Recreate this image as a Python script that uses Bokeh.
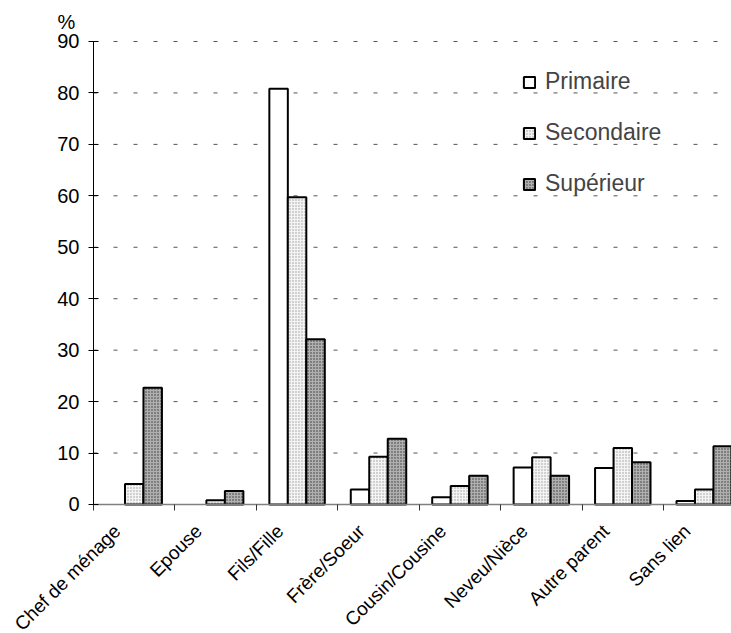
import math
from bokeh.plotting import figure
from bokeh.models import Range1d, FixedTicker, Legend, LegendItem, LabelSet, Label, ColumnDataSource
from bokeh.core.properties import value
from bokeh.embed import file_html
from bokeh.resources import INLINE

categories = ["Chef de ménage", "Epouse", "Fils/Fille", "Frère/Soeur",
              "Cousin/Cousine", "Neveu/Nièce", "Autre parent", "Sans lien"]
primaire = [0, 0, 80.8, 2.9, 1.4, 7.2, 7.1, 0.7]
secondaire = [4.0, 0.8, 59.7, 9.3, 3.6, 9.2, 11.0, 2.9]
superieur = [22.7, 2.6, 32.1, 12.8, 5.6, 5.6, 8.2, 11.3]
series_names = ["Primaire", "Secondaire", "Supérieur"]
y_ticks = [0, 10, 20, 30, 40, 50, 60, 70, 80, 90]
unit_label = "%"

FONT = "Liberation Sans"
W, H = 731, 633
n = len(categories)
X_END = 7.835

# frame covers the whole page; axes are drawn at value 0 so the texts
# around them stay inside the frame
p = figure(width=W, height=H, output_backend="svg", toolbar_location=None,
           x_range=Range1d(-1.1421, X_END), y_range=Range1d(-25.08, 97.97),
           min_border_left=0, min_border_right=0,
           min_border_top=0, min_border_bottom=0)
p.title.visible = False
p.outline_line_color = None
p.background_fill_color = "white"
p.border_fill_color = "white"

# dashed value grid, only over the plotting area
p.xgrid.visible = False
p.ygrid.visible = False
grid_vals = [t for t in y_ticks if t > 0]
p.segment(x0=[0] * len(grid_vals), x1=[n] * len(grid_vals), y0=grid_vals, y1=grid_vals,
          line_color="#555555", line_width=1, line_dash="4 16")

bw = 0.227
offsets = [-bw, 0.0, bw]
styles = [
    dict(fill_color="white"),
    dict(fill_color="#f4f4f4", hatch_pattern="dot", hatch_color="#9a9a9a",
         hatch_scale=3, hatch_weight=1),
    dict(fill_color="#b0b0b0", hatch_pattern="dot", hatch_color="#333333",
         hatch_scale=3, hatch_weight=1),
]
renderers = []
for vals, off, st in zip([primaire, secondaire, superieur], offsets, styles):
    xs = [i + 0.5 + off for i, v in enumerate(vals) if v > 0]
    tops = [v for v in vals if v > 0]
    r = p.vbar(x=xs, top=tops, width=bw, bottom=0, line_color="black",
               line_width=2, **st)
    renderers.append(r)

ya = p.yaxis[0]
ya.fixed_location = 0
ya.ticker = FixedTicker(ticks=y_ticks)
ya.bounds = (0, 90)
ya.axis_line_color = "black"
ya.major_tick_in = 5
ya.major_tick_out = 5
ya.minor_tick_line_color = None
ya.major_label_standoff = 9
ya.major_label_text_font = FONT
ya.major_label_text_font_size = "20px"
ya.major_label_text_color = "black"

xa = p.xaxis[0]
bounds = list(range(n + 1))
xa.fixed_location = 0
xa.bounds = (0, n)
xa.ticker = FixedTicker(ticks=bounds, minor_ticks=[])
xa.major_label_overrides = {b: "" for b in bounds}
xa.major_tick_in = 0
xa.major_tick_out = 6
xa.major_tick_line_color = "#333333"
xa.minor_tick_line_color = None
xa.axis_line_color = "#808080"
xa.axis_line_width = 1.5

# unit above the value axis
p.add_layout(Label(x=-0.442, y=93.8, text=unit_label, text_baseline="alphabetic",
                   text_font=FONT, text_font_size="20px", text_color="black"))

# rotated category names below the axis
LBL_DX, LBL_DY = -0.3, -3.1
cat_src = ColumnDataSource(dict(x=[i + 0.5 + LBL_DX for i in range(n)],
                                y=[LBL_DY] * n, text=categories))
p.add_layout(LabelSet(x="x", y="y", text="text", source=cat_src, angle=math.pi / 4,
                      text_align="right", text_baseline="top",
                      text_font=value(FONT), text_font_size=value("19px"),
                      text_color="black"))

items = [LegendItem(label=nm, renderers=[r]) for nm, r in zip(series_names, renderers)]
legend = Legend(items=items, location=(522, 436), orientation="vertical",
                label_text_font=FONT, label_text_font_size="23px",
                glyph_width=14, glyph_height=14, label_height=26,
                label_standoff=9, spacing=24, padding=0, margin=0,
                border_line_color=None, background_fill_alpha=0)
p.add_layout(legend, "center")

open("out.html", "w").write(file_html(p, INLINE))
